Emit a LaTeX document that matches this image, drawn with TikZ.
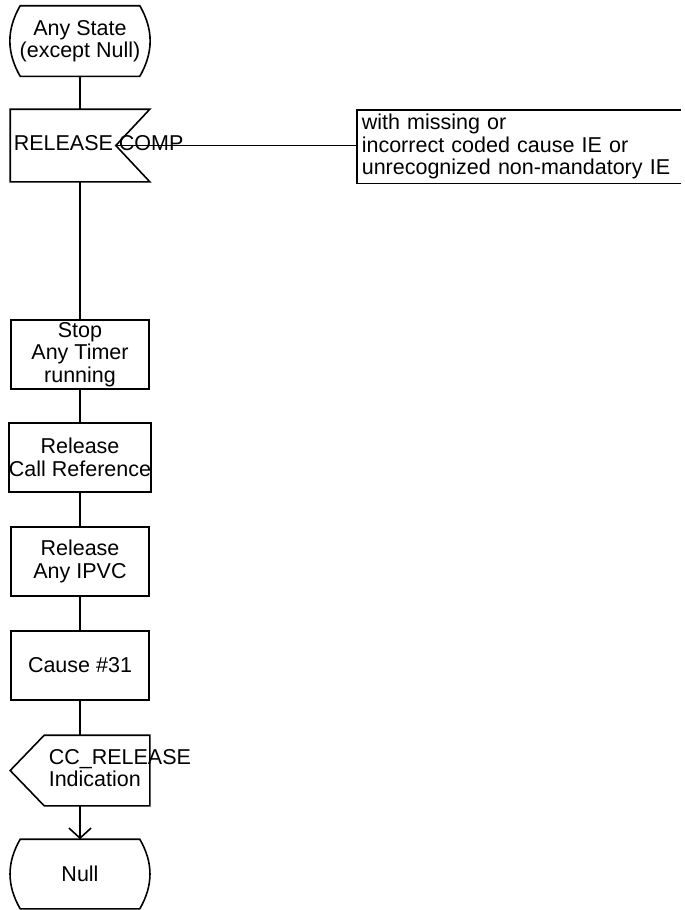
\documentclass[tikz,border=0pt]{standalone}
\usepackage{fontspec}
\setmainfont{Liberation Sans}
\usetikzlibrary{arrows.meta}

\begin{document}
\begin{tikzpicture}[x=1pt,y=-1pt,line width=1.6pt,
    txt/.style={inner sep=0pt,align=center,font=\fontsize{21.5}{22.5}\selectfont},
    box/.style={txt,draw,minimum width=138pt,minimum height=69pt},
    shp/.style={box,draw=none}]
  \useasboundingbox (0,0) rectangle (685,910);

  % start state
  \node[shp] (st) at (80,41) {Any State\\(except Null)};
  \draw ([xshift=10pt]st.north west) -- ([xshift=-10pt]st.north east)
    to[bend left=30] ([xshift=-10pt]st.south east) -- ([xshift=10pt]st.south west)
    to[bend left=30] ([xshift=10pt]st.north west) -- cycle;

  % input signal
  \node[shp,minimum height=71pt] (rc) at (80,145.5) {};
  \coordinate (tip) at ([xshift=-34pt]rc.east);
  \draw (rc.north west) -- (rc.north east) -- (tip) -- (rc.south east)
    -- (rc.south west) -- cycle;
  \node[txt,anchor=west] (rct) at (13,143) {RELEASE COMP};

  % comment
  \node[txt,anchor=west,align=left,text width=314pt,inner xsep=4pt,
    minimum height=72pt] (cm) at (357,146.5)
    {with missing or\\incorrect coded cause IE or\\unrecognized non-mandatory IE};
  \draw (cm.north east) -- (cm.north west) -- (cm.south west) -- (cm.south east);
  \draw (tip) -- (tip -| cm.west);

  % tasks
  \node[box] (stop) at (80,354.5) {Stop\\Any Timer\\running};
  \node[box] (rel) at (80,457.5) {Release\\Call Reference};
  \node[box] (ipvc) at (80,561.5) {Release\\Any IPVC};
  \node[box] (cause) at (80,665.5) {Cause \#31};

  % output signal
  \node[shp] (snd) at (80,770.5) {};
  \draw ([xshift=34pt]snd.north west) -- (snd.north east) -- (snd.south east)
    -- ([xshift=34pt]snd.south west) -- (snd.west) -- cycle;
  \node[txt,anchor=west,align=left] (sndt) at (48,768) {CC\_RELEASE\\Indication};

  % end state
  \node[shp,minimum height=68pt] (null) at (80,874) {Null};
  \draw ([xshift=10pt]null.north west) -- ([xshift=-10pt]null.north east)
    to[bend left=30] ([xshift=-10pt]null.south east) -- ([xshift=10pt]null.south west)
    to[bend left=30] ([xshift=10pt]null.north west) -- cycle;

  \draw (st) -- (rc);
  \draw (rc) -- (stop);
  \draw (stop) -- (rel);
  \draw (rel) -- (ipvc);
  \draw (ipvc) -- (cause);
  \draw (cause) -- (snd);
  \draw[-{Straight Barb[length=10pt,width=22pt]}] (snd) -- (null);
\end{tikzpicture}
\end{document}
